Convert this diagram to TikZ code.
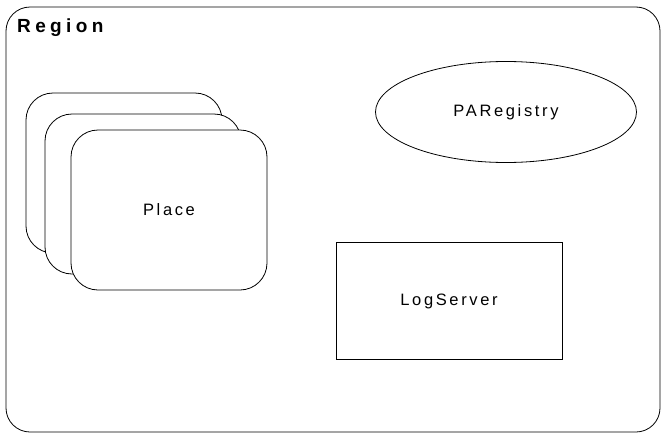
\documentclass[tikz,border=0pt]{standalone}
\usepackage{fontspec}
\setmainfont{Liberation Sans}
\usetikzlibrary{shapes.geometric}
\tikzset{
  outline/.style={draw=black, line width=0.8pt},
  placecard/.style={outline, fill=white, rounded corners=27pt, minimum width=196pt, minimum height=160pt, inner sep=0pt},
  label/.style={font=\fontsize{16.5}{18}\selectfont\addfontfeature{LetterSpace=16}}
}
\begin{document}
\begin{tikzpicture}[x=1pt, y=-1pt]
  \useasboundingbox (0,0) rectangle (667,434);
  % region frame
  \draw[outline, rounded corners=24pt] (6,7) rectangle (660,432);
  \node[anchor=west, inner sep=0pt, font=\fontsize{19}{21}\selectfont\bfseries\addfontfeature{LetterSpace=23}] (region) at (17,28) {Region};
  % stacked places
  \node[placecard] (place3) at (124,173) {};
  \node[placecard] (place2) at (143,194) {};
  \node[placecard, label] (place) at (169,210) {Place};
  % registry
  \node[outline, ellipse, minimum width=261pt, minimum height=101pt, label] (registry) at (506,112) {PARegistry};
  % log server
  \node[outline, rectangle, minimum width=226pt, minimum height=117pt, label] (logserver) at (449,301) {LogServer};
\end{tikzpicture}
\end{document}
